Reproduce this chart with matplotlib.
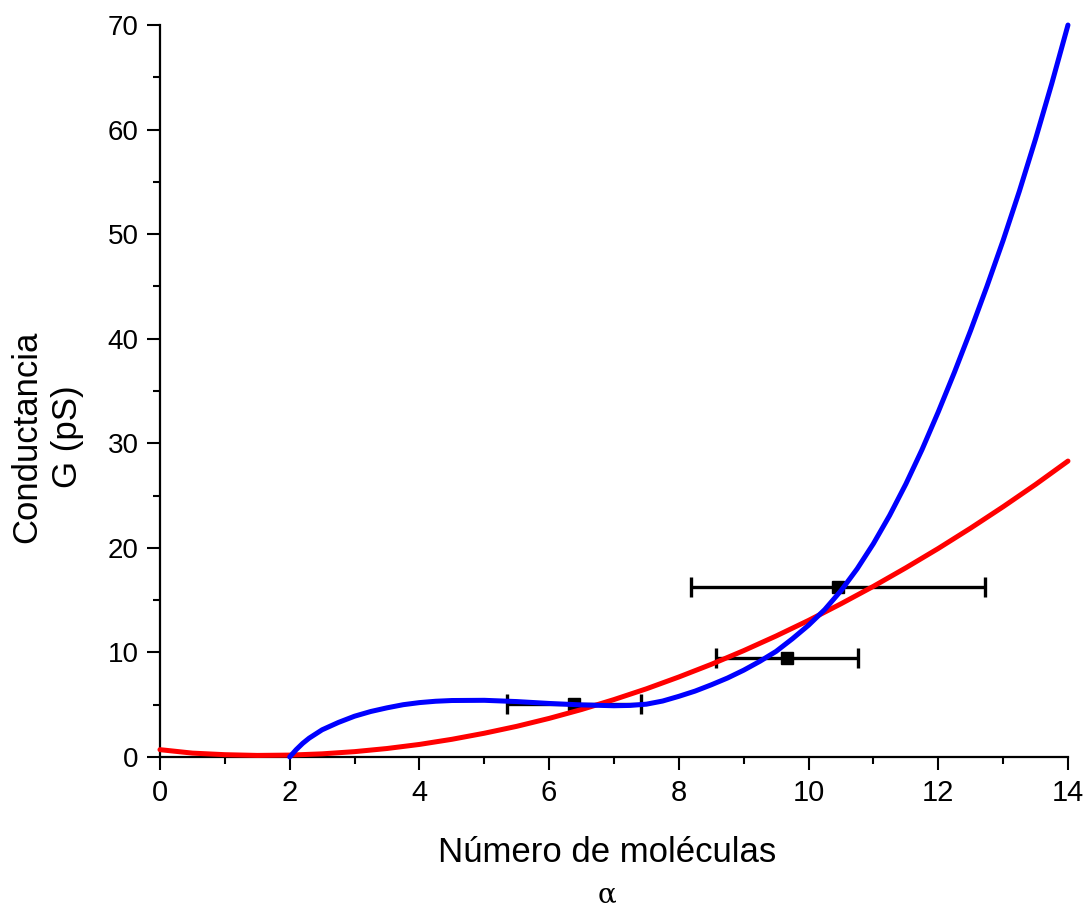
import matplotlib
matplotlib.use("Agg")
import matplotlib.pyplot as plt
from matplotlib.ticker import MultipleLocator

# valores
x_fit = [0.0, 0.5, 1.0, 1.5, 2.0, 2.5, 3.0, 3.5, 4.0, 4.5, 5.0, 5.5, 6.0, 6.5,
         7.0, 7.5, 8.0, 8.5, 9.0, 9.5, 10.0, 10.5, 11.0, 11.5, 12.0, 12.5,
         13.0, 13.5, 14.0]
g_rojo = [0.70, 0.37, 0.22, 0.15, 0.18, 0.30, 0.51, 0.81, 1.20, 1.69, 2.27,
          2.93, 3.69, 4.54, 5.49, 6.52, 7.65, 8.86, 10.17, 11.57, 13.06,
          14.65, 16.32, 18.09, 19.94, 21.89, 23.93, 26.06, 28.30]

x_azul = [2.0, 2.1, 2.2, 2.3, 2.4, 2.5, 2.75, 3.0, 3.25, 3.5, 3.75, 4.0,
          4.25, 4.5, 5.0, 5.5, 6.0, 6.5, 7.0, 7.25, 7.5, 7.75, 8.0, 8.25,
          8.5, 8.75, 9.0, 9.25, 9.5, 9.75, 10.0, 10.25, 10.5, 10.75, 11.0,
          11.25, 11.5, 11.75, 12.0, 12.25, 12.5, 12.75, 13.0, 13.25, 13.5,
          13.75, 14.0]
g_azul = [0.0, 0.7, 1.3, 1.8, 2.2, 2.6, 3.3, 3.9, 4.35, 4.7, 5.0, 5.2,
          5.33, 5.4, 5.42, 5.3, 5.12, 4.98, 4.9, 4.93, 5.05, 5.35, 5.8, 6.3,
          6.9, 7.55, 8.3, 9.15, 10.1, 11.3, 12.6, 14.1, 15.9, 18.0, 20.4,
          23.1, 26.1, 29.4, 33.0, 36.8, 40.8, 45.0, 49.4, 54.1, 59.1,
          64.4, 70.0]

# puntos experimentales
n_mol = [6.38, 9.67, 10.45]
g_exp = [5.1, 9.5, 16.3]
n_err = [1.03, 1.1, 2.27]

plt.rcParams["font.family"] = ["Liberation Sans", "DejaVu Sans"]

fig = plt.figure(figsize=(10.86, 9.07), dpi=100)
ax = fig.add_axes([0.1473, 0.1654, 0.8361, 0.807])

ax.plot(x_fit, g_rojo, color="#ff0000", lw=3.6, clip_on=False, zorder=3,
        solid_capstyle="round")
ax.plot(x_azul, g_azul, color="#0000ff", lw=3.6, clip_on=False, zorder=4,
        solid_capstyle="round")
ax.errorbar(n_mol, g_exp, xerr=n_err, fmt="s", color="black", ms=8.5,
            elinewidth=2.4, capsize=7, capthick=2.4, zorder=2)

ax.set_xlim(0, 14)
ax.set_ylim(0, 70)
ax.xaxis.set_major_locator(MultipleLocator(2))
ax.xaxis.set_minor_locator(MultipleLocator(1))
ax.yaxis.set_major_locator(MultipleLocator(10))
ax.yaxis.set_minor_locator(MultipleLocator(5))

for s in ["top", "right"]:
    ax.spines[s].set_visible(False)
for s in ["left", "bottom"]:
    ax.spines[s].set_linewidth(1.6)

ax.tick_params(which="major", direction="out", length=9.5, width=1.5)
ax.tick_params(which="minor", direction="out", length=5, width=1.5)
ax.tick_params(axis="y", labelsize=20, pad=6)
ax.tick_params(axis="x", labelsize=21, pad=6)

ax.set_xlabel("Número de moléculas", fontsize=25)
ax.xaxis.set_label_coords(0.492, -0.13)
ax.xaxis.label.set_va("center")
ax.set_ylabel("Conductancia\nG (pS)", fontsize=25, linespacing=1.3)
ax.yaxis.set_label_coords(-0.124, 0.437)
ax.yaxis.label.set_va("center")
fig.text(0.559, 0.013, "α", family="DejaVu Serif", fontsize=20,
         ha="center", va="center")

fig.savefig("out.png", dpi=100)
